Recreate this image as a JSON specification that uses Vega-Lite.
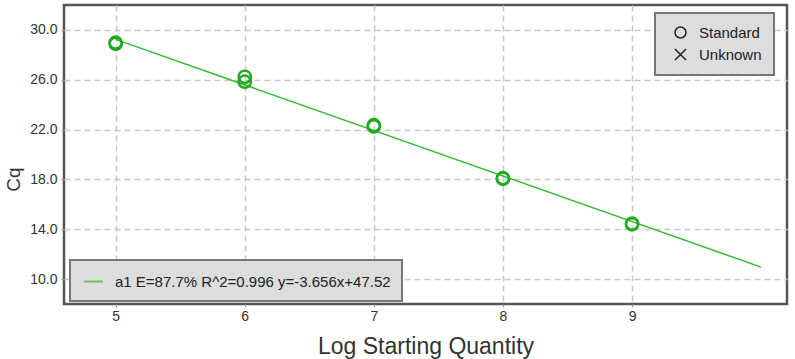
{
  "$schema": "https://vega.github.io/schema/vega-lite/v6.json",
  "width": 723,
  "height": 299,
  "autosize": "none",
  "padding": {"left": 64, "top": 5, "right": 8, "bottom": 55},
  "background": "white",
  "config": {
    "font": "Liberation Sans",
    "view": {"stroke": "#555555", "strokeWidth": 2.5},
    "legend": {"strokeWidth": 2},
    "axis": {
      "domain": false,
      "gridColor": "#c8c8c8",
      "gridDash": [6, 4],
      "gridWidth": 1.5,
      "labelFont": "Liberation Sans",
      "labelFontSize": 14,
      "labelColor": "#333333",
      "titleFont": "Liberation Sans",
      "titleFontWeight": "normal",
      "titleColor": "#333333",
      "tickColor": "#999999",
      "tickSize": 3
    }
  },
  "layer": [
    {
      "data": {"values": [
        {"q": 5, "cq": 29.24, "series": "a1 E=87.7% R^2=0.996 y=-3.656x+47.52"},
        {"q": 10, "cq": 10.96, "series": "a1 E=87.7% R^2=0.996 y=-3.656x+47.52"}
      ]},
      "mark": {"type": "line", "strokeWidth": 1.5},
      "encoding": {
        "x": {"field": "q", "type": "quantitative", "scale": {"domain": [4.6, 10.2], "nice": false, "zero": false},
              "axis": {"title": "Log Starting Quantity", "titleFontSize": 23, "values": [5, 6, 7, 8, 9], "format": "d", "labelPadding": 2, "titlePadding": 12}},
        "y": {"field": "cq", "type": "quantitative", "scale": {"domain": [8, 32], "nice": false, "zero": false},
              "axis": {"title": "Cq", "titleFontSize": 19, "values": [10, 14, 18, 22, 26, 30], "format": ".1f", "labelPadding": 4, "titleX": -41, "titleY": 174}},
        "stroke": {"field": "series", "type": "nominal", "scale": {"range": ["#33bb33"]},
          "legend": {
            "title": null, "orient": "none", "legendX": 6, "legendY": 255,
            "fillColor": "#dddddd", "strokeColor": "#777777", "padding": 11,
            "labelFontSize": 15, "labelColor": "#222222", "labelFont": "Liberation Sans", "labelLimit": 500,
            "labelExpr": "datum.label + '\u00a0\u00a0'",
            "symbolType": "stroke", "symbolSize": 361, "symbolStrokeWidth": 2, "symbolOpacity": 0.7, "symbolOffset": 2, "labelOffset": 11
          }}
      }
    },
    {
      "data": {"values": [
        {"q": 5, "cq": 28.88, "type": "Standard"},
        {"q": 5, "cq": 28.98, "type": "Standard"},
        {"q": 6, "cq": 26.24, "type": "Standard"},
        {"q": 6, "cq": 25.84, "type": "Standard"},
        {"q": 7, "cq": 22.25, "type": "Standard"},
        {"q": 7, "cq": 22.35, "type": "Standard"},
        {"q": 8, "cq": 18.05, "type": "Standard"},
        {"q": 8, "cq": 18.1, "type": "Standard"},
        {"q": 9, "cq": 14.4, "type": "Standard"},
        {"q": 9, "cq": 14.45, "type": "Standard"}
      ]},
      "mark": {"type": "point", "filled": false, "color": "#22aa22", "strokeWidth": 2.5, "size": 150, "opacity": 1},
      "encoding": {
        "x": {"field": "q", "type": "quantitative"},
        "y": {"field": "cq", "type": "quantitative"},
        "shape": {"field": "type", "type": "nominal",
          "scale": {"domain": ["Standard", "Unknown"], "range": ["circle", "M-1,-1L1,1M1,-1L-1,1"]},
          "legend": {
            "title": null, "orient": "none", "legendX": 591, "legendY": 8,
            "fillColor": "#dddddd", "strokeColor": "#777777", "padding": 12, "rowPadding": 5,
            "labelFontSize": 15, "labelColor": "#222222", "labelFont": "Liberation Sans", "labelOffset": 11,
            "labelExpr": "datum.label + '\u00a0\u00a0'",
            "symbolSize": 121, "symbolStrokeWidth": 1.5, "symbolOffset": 6,
            "symbolStrokeColor": "#222222", "symbolFillColor": "transparent"
          }}
      }
    }
  ]
}
